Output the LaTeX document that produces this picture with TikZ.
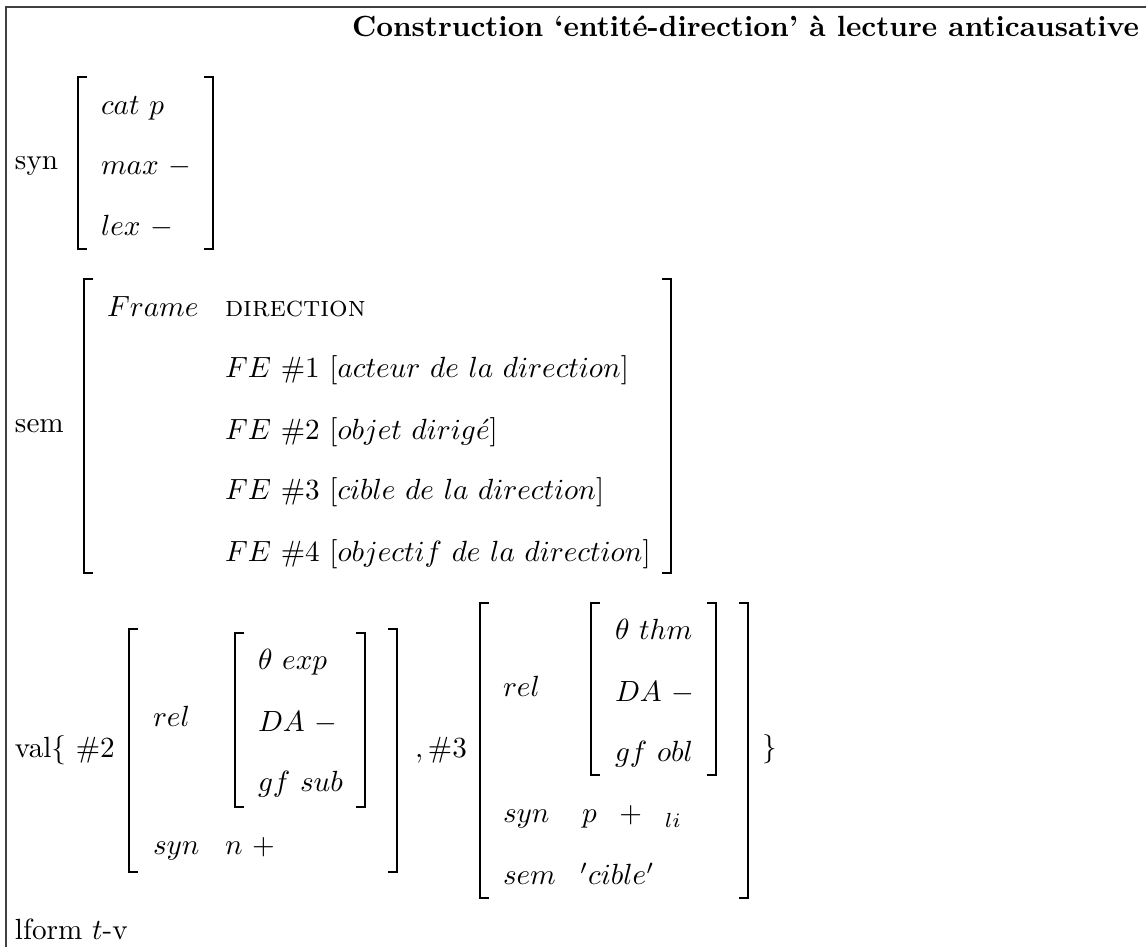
\documentclass[tikz,border=0pt]{standalone}
\usepackage{fontspec}
\newcommand{\LeftBrk}[3]{\draw[brk] ({#1+9},#2) -- (#1,#2) -- (#1,#3) -- ({#1+9},#3);}
\newcommand{\RightBrk}[3]{\draw[brk] ({#1-9},#2) -- (#1,#2) -- (#1,#3) -- ({#1-9},#3);}
\begin{document}
\begin{tikzpicture}[x=0.3425pt,y=-0.3425pt,
  txt/.style={anchor=base west, inner sep=0pt, outer sep=0pt},
  brk/.style={line width=0.6pt, line cap=butt, line join=miter},
  frameline/.style={line width=0.45pt, draw=black!75}]
\useasboundingbox (0,0) rectangle (1146,947);
% frame (clipped on right and bottom)
\draw[frameline] (6,947) -- (6,7) -- (1146,7);
% title
\node[txt] (title) at (352,37) {\textbf{Construction `entité-direction' à lecture anticausative}};
% syn block
\node[txt] (synlab) at (15,170) {syn};
\LeftBrk{78}{77}{249}
\RightBrk{213}{77}{249}
\node[txt] (cat) at (101,115) {$cat\ p$};
\node[txt] (max) at (101,175) {$max\ -$};
\node[txt] (lex) at (101,236) {$lex\ -$};
% sem block
\node[txt] (semlab) at (15,433) {sem};
\LeftBrk{84}{279}{573}
\RightBrk{671}{279}{573}
\node[txt] (frame) at (107,317) {$Frame$};
\node[txt] (dir) at (225,317) {\textsc{direction}};
\node[txt] (fe1) at (225,378) {$FE\ \#1\ [acteur\ de\ la\ direction]$};
\node[txt] (fe2) at (225,440) {$FE\ \#2\ [objet\ dirig\acute{e}]$};
\node[txt] (fe3) at (225,500) {$FE\ \#3\ [cible\ de\ la\ direction]$};
\node[txt] (fe4) at (225,562) {$FE\ \#4\ [objectif\ de\ la\ direction]$};
% val block
\node[txt] (vallab) at (15,758) {val\{ \#2};
\LeftBrk{129}{629}{872}
\RightBrk{397}{629}{872}
\node[txt] (rela) at (153,727) {$rel$};
\LeftBrk{235}{633}{807}
\RightBrk{365}{633}{807}
\node[txt] (thexp) at (258,670) {$\theta\ exp$};
\node[txt] (daa) at (258,732) {$DA\ -$};
\node[txt] (gfsub) at (258,792) {$gf\ sub$};
\node[txt] (syna) at (153,855) {$syn$};
\node[txt] (nplus) at (225,855) {$n\ +$};
\node[txt] (h3) at (415,758) {$,\#3$};
\LeftBrk{480}{603}{898}
\RightBrk{748}{603}{898}
\node[txt] (relb) at (503,697) {$rel$};
\LeftBrk{591}{603}{775}
\RightBrk{716}{603}{775}
\node[txt] (ththm) at (615,640) {$\theta\ thm$};
\node[txt] (dab) at (615,702) {$DA\ -$};
\node[txt] (gfobl) at (615,762) {$gf\ obl$};
\node[txt] (synb) at (503,823) {$syn$};
\node[txt] (pplus) at (582,823) {$p\;\;+\;\;{}_{li}$};
\node[txt] (semb) at (503,885) {$sem$};
\node[txt] (cible) at (580,885) {$'cible'$};
\node[txt] (close) at (762,757) {\}};
% lform
\node[txt] (lform) at (15,940) {lform $t$-v};
\end{tikzpicture}
\end{document}
